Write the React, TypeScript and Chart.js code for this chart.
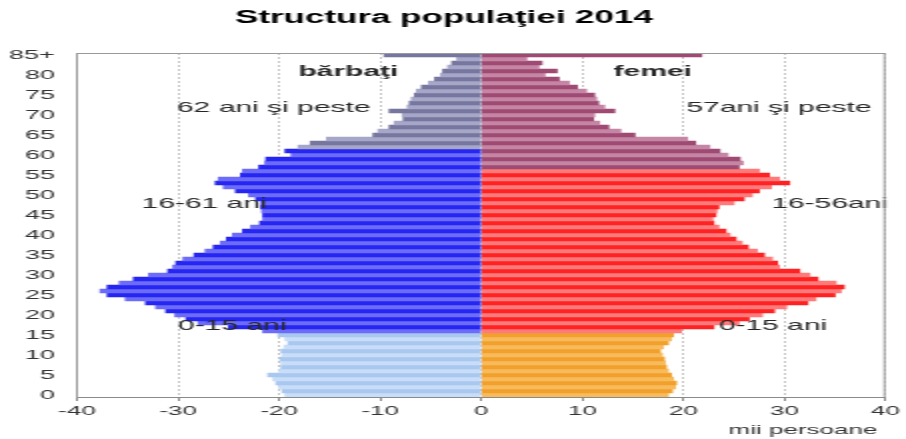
import React, { useEffect, useRef } from "react";
import { Chart, registerables } from "chart.js";

Chart.register(...registerables);

const TITLE = "Structura populaţiei 2014";
const AXIS_UNIT = "mii persoane";

// ages 0..84 and 85+
const AGE_LABELS: string[] = [
  "0","1","2","3","4","5","6","7","8","9","10","11","12","13","14","15","16","17","18","19",
  "20","21","22","23","24","25","26","27","28","29","30","31","32","33","34","35","36","37","38","39",
  "40","41","42","43","44","45","46","47","48","49","50","51","52","53","54","55","56","57","58","59",
  "60","61","62","63","64","65","66","67","68","69","70","71","72","73","74","75","76","77","78","79",
  "80","81","82","83","84","85+",
];

// men (bărbaţi), thousands, negative side
const MEN: number[] = [
  -19.4, -19.7, -20.0, -20.3, -20.6, -21.1, -20.0, -19.8, -19.8, -19.9,
  -19.7, -19.8, -19.5, -19.1, -19.4, -20.1, -21.6, -25.0, -28.0, -29.2,
  -30.3, -31.2, -32.2, -33.2, -35.2, -37.0, -37.7, -37.0, -35.8, -34.4,
  -32.9, -31.0, -30.5, -30.2, -29.5, -28.4, -27.3, -26.5, -25.8, -25.2,
  -24.6, -23.6, -22.8, -21.9, -21.6, -21.6, -21.7, -21.8, -21.8, -22.3,
  -23.0, -24.3, -25.5, -26.3, -26.0, -23.8, -23.6, -22.0, -21.4, -21.3,
  -18.8, -19.4, -18.1, -16.9, -15.3, -10.7, -10.2, -9.1, -8.6, -7.7,
  -7.8, -9.1, -7.3, -7.1, -6.9, -6.6, -6.4, -5.9, -5.2, -4.6,
  -4.0, -3.8, -3.3, -2.9, -2.4, -9.6,
];

// women (femei), thousands
const WOMEN: number[] = [
  18.5, 18.9, 19.2, 19.3, 19.0, 18.8, 18.5, 18.3, 18.2, 18.1,
  17.9, 17.7, 18.0, 18.5, 18.8, 19.0, 19.8, 23.0, 25.5, 26.5,
  27.8, 29.0, 30.2, 32.3, 33.1, 35.0, 35.6, 35.9, 35.1, 33.3,
  32.5, 31.5, 29.5, 29.3, 28.8, 28.0, 27.3, 26.4, 25.8, 25.2,
  24.6, 24.2, 23.5, 23.0, 22.9, 23.2, 23.3, 23.5, 25.0, 26.0,
  26.8, 27.5, 28.7, 30.5, 29.5, 28.5, 27.5, 25.5, 25.9, 25.6,
  24.4, 23.6, 22.6, 21.2, 20.4, 15.2, 13.8, 12.6, 11.7, 11.1,
  11.2, 13.2, 12.2, 11.6, 11.4, 11.2, 10.4, 9.5, 8.7, 7.7,
  6.3, 7.5, 5.7, 6.0, 4.5, 21.8,
];

const X_MIN = -40;
const X_MAX = 40;
const X_STEP = 10;

// age group limits
const MEN_WORK_START = 16;
const MEN_RETIRE = 62;
const WOMEN_WORK_START = 16;
const WOMEN_RETIRE = 57;

// text notes: text, x value, age position, bold
const NOTES: { text: string; x: number; age: number; bold: boolean }[] = [
  { text: "bărbaţi", x: -18.1, age: 80.75, bold: true },
  { text: "femei", x: 13.1, age: 80.75, bold: true },
  { text: "62 ani şi peste", x: -30.1, age: 71.75, bold: false },
  { text: "57ani şi peste", x: 20.3, age: 71.75, bold: false },
  { text: "16-61 ani", x: -33.6, age: 47.75, bold: false },
  { text: "16-56ani", x: 28.7, age: 47.75, bold: false },
  { text: "0-15 ani", x: -30.0, age: 17.25, bold: false },
  { text: "0-15 ani", x: 23.5, age: 17.25, bold: false },
];

const FONT = "'Liberation Sans', Arial, Helvetica, sans-serif";

const menColors = AGE_LABELS.map((_, a) => {
  const odd = a % 2 === 1;
  if (a >= MEN_RETIRE) return odd ? "#76769f" : "#a6a6c8";
  if (a >= MEN_WORK_START) return odd ? "#2626f2" : "#6c6cf8";
  return odd ? "#a9c8f0" : "#c9ddf8";
});

const womenColors = AGE_LABELS.map((_, a) => {
  const odd = a % 2 === 1;
  if (a >= WOMEN_RETIRE) return odd ? "#9e4a72" : "#c486a4";
  if (a >= WOMEN_WORK_START) return odd ? "#ff2222" : "#ff7a7a";
  return odd ? "#f2a02c" : "#f8bb5c";
});

const overlayPlugin = {
  id: "overlay",
  afterDatasetsDraw(chart: any) {
    const { ctx, scales } = chart;
    const x = scales.x;
    const y = scales.y;
    ctx.save();
    ctx.fillStyle = "#262626";
    ctx.textBaseline = "middle";
    ctx.textAlign = "left";
    for (const n of NOTES) {
      ctx.font = `${n.bold ? "bold " : ""}15px ${FONT}`;
      ctx.fillText(n.text, x.getPixelForValue(n.x), y.getPixelForValue(n.age));
    }
    ctx.restore();
  },
  afterDraw(chart: any) {
    const { ctx, chartArea } = chart;
    ctx.save();
    ctx.strokeStyle = "#9a9a9a";
    ctx.lineWidth = 1;
    ctx.beginPath();
    ctx.moveTo(chartArea.left, chartArea.top + 0.5);
    ctx.lineTo(chartArea.right, chartArea.top + 0.5);
    ctx.moveTo(chartArea.right - 0.5, chartArea.top);
    ctx.lineTo(chartArea.right - 0.5, chartArea.bottom);
    ctx.stroke();
    ctx.fillStyle = "#333";
    ctx.font = `13px ${FONT}`;
    ctx.textAlign = "right";
    ctx.textBaseline = "middle";
    ctx.fillText(AXIS_UNIT, chartArea.right - 4, 430);
    ctx.restore();
  },
};

export default function App() {
  const ref = useRef<HTMLCanvasElement | null>(null);

  useEffect(() => {
    if (!ref.current) return;
    const chart = new Chart(ref.current, {
      type: "bar",
      data: {
        labels: AGE_LABELS,
        datasets: [
          {
            label: "bărbaţi",
            data: MEN,
            backgroundColor: menColors,
            borderWidth: 0,
            barPercentage: 1,
            categoryPercentage: 1,
          },
          {
            label: "femei",
            data: WOMEN,
            backgroundColor: womenColors,
            borderWidth: 0,
            barPercentage: 1,
            categoryPercentage: 1,
          },
        ],
      },
      options: {
        indexAxis: "y",
        responsive: false,
        animation: false,
        devicePixelRatio: 1,
        layout: { padding: { left: 0, right: 9, top: 0, bottom: 0 } },
        plugins: {
          legend: { display: false },
          tooltip: { enabled: false },
          title: {
            display: true,
            text: TITLE,
            color: "#000",
            font: { family: FONT, size: 17.5, weight: "bold" },
            padding: { top: 8, bottom: 24 },
          },
        },
        scales: {
          x: {
            type: "linear",
            stacked: true,
            min: X_MIN,
            max: X_MAX,
            ticks: {
              stepSize: X_STEP,
              color: "#333",
              font: { family: FONT, size: 13 },
              padding: 3,
            },
            grid: {
              color: "#c4c4c4",
              tickColor: "#8a8a8a",
              tickLength: 4,
              tickBorderDash: [10, 0],
            },
            border: { display: true, color: "#8a8a8a", dash: [2, 2] },
            afterFit: (s: any) => {
              s.height = 42;
            },
          },
          y: {
            type: "category",
            stacked: true,
            reverse: true,
            grid: { display: false, drawTicks: false },
            border: { display: true, color: "#9a9a9a" },
            ticks: {
              autoSkip: false,
              color: "#333",
              font: { family: FONT, size: 13.5 },
              padding: 11,
              callback: (_v: any, i: number) => (i % 5 === 0 ? AGE_LABELS[i] : ""),
            },
            afterFit: (s: any) => {
              s.width = 38.5;
            },
          },
        },
      },
      plugins: [overlayPlugin],
    } as any);
    return () => chart.destroy();
  }, []);

  return (
    <div style={{ position: "absolute", left: 0, top: 0, width: 906, height: 439, overflow: "hidden", background: "#fff" }}>
      <div style={{ width: 453, height: 439, transform: "scaleX(2)", transformOrigin: "0 0" }}>
        <canvas ref={ref} width={453} height={439} style={{ display: "block" }} />
      </div>
    </div>
  );
}
